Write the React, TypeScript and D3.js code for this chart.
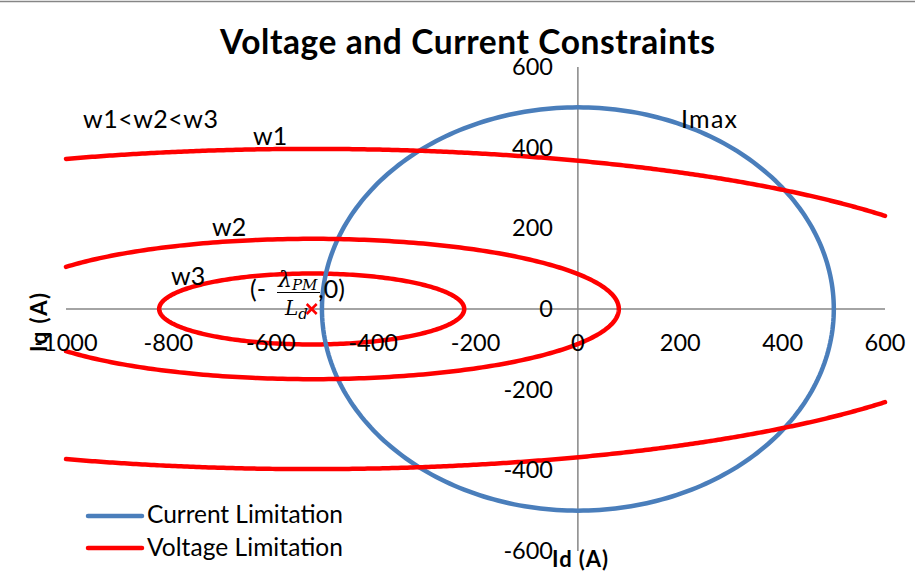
import React from "react";
import * as d3 from "d3";

// Axis ranges and ticks
const idTicks = [-1000, -800, -600, -400, -200, 0, 200, 400, 600];
const iqTicks = [-600, -400, -200, 0, 200, 400, 600];

// Current limit circle: radius Imax (A)
const currentLimit = [{ name: "Imax", radius: 500 }];

// Voltage limit ellipses for three speeds (centre at -λPM/Ld, semi-axes in A)
const speedNames = ["w3", "w2", "w1"];
const ellipseCentreD = -520;
const semiAxisD = [298, 600, 1377];
const semiAxisQ = [88, 174, 397];

const W = 915;
const H = 581;
const FONT = "Lato, 'Open Sans', sans-serif";
const MATH = "'DejaVu Serif', 'Liberation Serif', serif";
const BLUE = "#4A7EBB";
const RED = "#FF0000";
const AXIS = "#868686";

const x = d3.scaleLinear().domain([-1000, 600]).range([66, 885]);
const y = d3.scaleLinear().domain([-600, 600]).range([551, 67]);

const line = d3
  .line<[number, number]>()
  .x((d) => x(d[0]))
  .y((d) => y(d[1]));

function sampleArc(cx: number, a: number, b: number, t0: number, t1: number) {
  const n = 300;
  const pts: [number, number][] = [];
  for (let i = 0; i <= n; i++) {
    const t = t0 + ((t1 - t0) * i) / n;
    pts.push([cx + a * Math.cos(t), b * Math.sin(t)]);
  }
  return pts;
}

// Pieces of an ellipse that lie inside the Id axis range
function ellipseArcs(cx: number, a: number, b: number) {
  const [xmin, xmax] = x.domain();
  const tl = cx - a < xmin ? Math.acos((xmin - cx) / a) : Math.PI;
  const tr = cx + a > xmax ? Math.acos((xmax - cx) / a) : 0;
  if (tl === Math.PI && tr === 0) return [sampleArc(cx, a, b, 0, 2 * Math.PI)];
  if (tr === 0) return [sampleArc(cx, a, b, -tl, tl)];
  return [sampleArc(cx, a, b, tr, tl), sampleArc(cx, a, b, -tl, -tr)];
}

export default function App() {
  const lw = 4.5;
  const voltagePaths = speedNames.map((_, i) =>
    ellipseArcs(ellipseCentreD, semiAxisD[i], semiAxisQ[i]).map((p) => line(p) as string)
  );
  const circlePath = line(
    sampleArc(0, currentLimit[0].radius, currentLimit[0].radius, 0, 2 * Math.PI)
  ) as string;

  const mx = x(ellipseCentreD);
  const my = y(0);

  return (
    <svg
      width={W}
      height={H}
      style={{ position: "absolute", left: 0, top: 0, background: "#fff" }}
      fontFamily={FONT}
    >
      <rect x={-1} y={1.5} width={W + 2} height={H + 2} fill="#fff" stroke={AXIS} strokeWidth={1.5} />

      {/* axes crossing at the origin */}
      <line x1={x(-1000)} x2={x(600)} y1={y(0)} y2={y(0)} stroke={AXIS} strokeWidth={1.5} />
      <line x1={x(0)} x2={x(0)} y1={y(600)} y2={y(-600)} stroke={AXIS} strokeWidth={1.5} />

      {/* innermost ellipse sits under the circle */}
      {voltagePaths[0].map((d, j) => (
        <path key={"w3" + j} d={d} fill="none" stroke={RED} strokeWidth={lw} strokeLinecap="round" />
      ))}
      <path d={circlePath} fill="none" stroke={BLUE} strokeWidth={lw} />
      {voltagePaths.slice(1).map((arcs, i) =>
        arcs.map((d, j) => (
          <path key={i + "-" + j} d={d} fill="none" stroke={RED} strokeWidth={lw} strokeLinecap="round" />
        ))
      )}

      {/* tick labels */}
      {idTicks.map((t) => (
        <text key={"x" + t} x={x(t)} y={351} fontSize={23.5} textAnchor="middle" fill="#000">
          {t}
        </text>
      ))}
      {iqTicks.map((t) => (
        <text key={"y" + t} x={553} y={y(t) + 8} fontSize={23.5} textAnchor="end" fill="#000">
          {t}
        </text>
      ))}

      {/* title and axis titles */}
      <text
        x={220}
        y={54}
        fontSize={33.5}
        fontWeight="bold"
        textLength={495}
        lengthAdjust="spacing"
        fill="#000"
      >
        Voltage and Current Constraints
      </text>
      <text x={552} y={567} fontSize={22} fontWeight="bold" textLength={56} lengthAdjust="spacing" fill="#000">
        Id (A)
      </text>
      <text
        transform={`translate(47,352) rotate(-90)`}
        fontSize={22}
        fontWeight="bold"
        textLength={59}
        lengthAdjust="spacing"
        fill="#000"
      >
        Iq (A)
      </text>

      {/* curve annotations */}
      <text x={83} y={128} fontSize={25} textLength={135} lengthAdjust="spacing" fill="#000">
        w1&lt;w2&lt;w3
      </text>
      <text x={253} y={145} fontSize={25} fill="#000">{speedNames[2]}</text>
      <text x={212} y={236} fontSize={25} fill="#000">{speedNames[1]}</text>
      <text x={171} y={285} fontSize={25} fill="#000">{speedNames[0]}</text>
      <text x={681} y={128} fontSize={25} textLength={56} lengthAdjust="spacing" fill="#000">
        {currentLimit[0].name}
      </text>

      {/* ellipse centre (-λPM/Ld, 0) */}
      <text x={250} y={298} fontSize={25} fill="#000">(-</text>
      <text x={278} y={287} fontSize={22} fontStyle="italic" fontFamily={MATH} fill="#000">
        λ<tspan fontSize={15} dy={3}>PM</tspan>
      </text>
      <line x1={277} x2={320} y1={292.5} y2={292.5} stroke="#000" strokeWidth={1.2} />
      <text x={285} y={315} fontSize={20} fontStyle="italic" fontFamily={MATH} fill="#000">
        L<tspan fontSize={15} dy={4}>d</tspan>
      </text>
      <text x={318} y={298} fontSize={25} fill="#000">,0)</text>
      <g stroke={RED} strokeWidth={2.5}>
        <line x1={mx - 5} x2={mx + 5} y1={my - 5} y2={my + 5} />
        <line x1={mx - 5} x2={mx + 5} y1={my + 5} y2={my - 5} />
      </g>

      {/* legend */}
      <line x1={88} x2={142} y1={516} y2={516} stroke={BLUE} strokeWidth={lw} strokeLinecap="round" />
      <text x={147} y={523} fontSize={24.5} textLength={196} lengthAdjust="spacing" fill="#000">
        Current Limitation
      </text>
      <line x1={88} x2={142} y1={548} y2={548} stroke={RED} strokeWidth={lw} strokeLinecap="round" />
      <text x={147} y={556} fontSize={24.5} textLength={196} lengthAdjust="spacing" fill="#000">
        Voltage Limitation
      </text>
    </svg>
  );
}
